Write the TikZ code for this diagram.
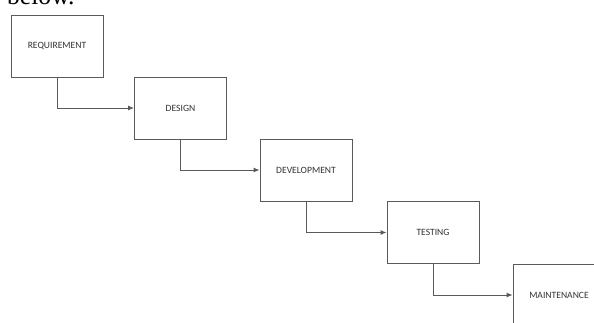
\documentclass[tikz,border=0pt]{standalone}
\usepackage{fontspec}
\setmainfont{Liberation Serif}
\newfontfamily\boxfont{Carlito}
\usetikzlibrary{arrows.meta}
\definecolor{boxline}{HTML}{5A5A5A}
\definecolor{boxtext}{HTML}{333333}
\begin{document}
\begin{tikzpicture}[x=1pt,y=1pt,
  stage/.style={draw=boxline, line width=0.9pt, minimum width=92pt, minimum height=62pt,
    inner sep=0pt, font=\boxfont\fontsize{9.6pt}{11pt}\selectfont, text=boxtext},
  flow/.style={draw=boxline, line width=0.9pt, -{Latex[length=6pt,width=5pt]}}]
\useasboundingbox (0,0) rectangle (594,323);
\clip (0,0) rectangle (594,323);
\node[anchor=base west, inner sep=0pt, font=\fontsize{25.6pt}{28pt}\selectfont] (lead) at (7,318) {below.};
\node[stage] (req) at (57,276.5) {REQUIREMENT};
\node[stage] (des) at (180.5,215) {DESIGN};
\node[stage] (dev) at (306,153) {DEVELOPMENT};
\node[stage] (tst) at (433,90.5) {TESTING};
\node[stage] (mnt) at (559,28) {MAINTENANCE};
\draw[flow] (req.south) |- (des.west);
\draw[flow] (des.south) |- (dev.west);
\draw[flow] (dev.south) |- (tst.west);
\draw[flow] (tst.south) |- (mnt.west);
\end{tikzpicture}
\end{document}
